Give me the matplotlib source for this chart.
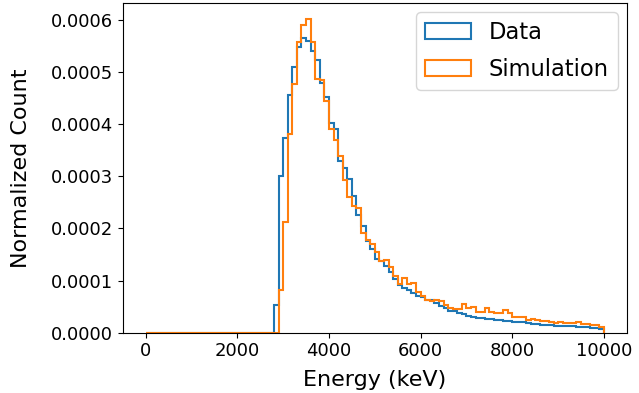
import numpy as np
import matplotlib
matplotlib.use("Agg")
import matplotlib.pyplot as plt

# bin edges (keV), 100 bins of 100 keV
edges = np.arange(0, 10001, 100)

# normalized counts per bin, in units of 1e-4, starting at 2800 keV (data) / 2900 keV (sim)
data_vals = [
    0.53, 3.00, 3.73, 4.56, 5.10, 5.47, 5.65, 5.60, 5.40, 5.23,
    4.78, 4.52, 4.02, 3.90, 3.30, 3.15, 2.95, 2.62, 2.25, 2.05,
    1.75, 1.60, 1.42, 1.38, 1.27, 1.17, 1.03, 0.92, 0.86, 0.82,
    0.76, 0.70, 0.68, 0.63, 0.62, 0.57, 0.52, 0.48, 0.42, 0.41,
    0.38, 0.36, 0.32, 0.30, 0.29, 0.28, 0.27, 0.27, 0.25, 0.25,
    0.23, 0.22, 0.21, 0.21, 0.20, 0.18, 0.16, 0.16, 0.15, 0.14,
    0.14, 0.13, 0.12, 0.12, 0.12, 0.12, 0.11, 0.11, 0.11, 0.09,
    0.09, 0.08,
]
sim_vals = [
    0.82, 2.13, 3.80, 4.77, 5.57, 5.90, 6.02, 5.57, 4.87, 4.85,
    4.45, 3.90, 3.70, 3.38, 2.93, 2.61, 2.42, 2.40, 1.91, 1.77,
    1.70, 1.55, 1.38, 1.39, 1.26, 1.09, 0.93, 1.04, 0.93, 0.95,
    0.79, 0.70, 0.62, 0.60, 0.63, 0.60, 0.53, 0.48, 0.46, 0.45,
    0.56, 0.47, 0.50, 0.40, 0.40, 0.47, 0.40, 0.37, 0.37, 0.43,
    0.38, 0.31, 0.30, 0.31, 0.24, 0.26, 0.24, 0.23, 0.22, 0.21,
    0.18, 0.21, 0.18, 0.18, 0.18, 0.20, 0.16, 0.16, 0.15, 0.15,
    0.11,
]
data_start = 2800
sim_start = 2900

nbins = len(edges) - 1
data_hist = np.zeros(nbins)
sim_hist = np.zeros(nbins)
i0 = data_start // 100
data_hist[i0:i0 + len(data_vals)] = np.array(data_vals) * 1e-4
i0 = sim_start // 100
sim_hist[i0:i0 + len(sim_vals)] = np.array(sim_vals) * 1e-4

fig = plt.figure(figsize=(6.39, 3.93), dpi=100)
ax = fig.add_axes([0.192, 0.1534, 0.789, 0.839])

ax.hist(edges[:-1], bins=edges, weights=data_hist, histtype='step',
        linewidth=1.5, color='tab:blue', label='Data')
ax.hist(edges[:-1], bins=edges, weights=sim_hist, histtype='step',
        linewidth=1.5, color='tab:orange', label='Simulation')

ax.set_xlabel("Energy (keV)", fontsize=16, labelpad=7)
ax.set_ylabel("Normalized Count", fontsize=16, labelpad=14)
ax.tick_params(labelsize=13)
ax.legend(fontsize=16.3, loc='upper right', labelspacing=0.6,
          borderaxespad=0.4)

fig.savefig("out.png", dpi=100)
